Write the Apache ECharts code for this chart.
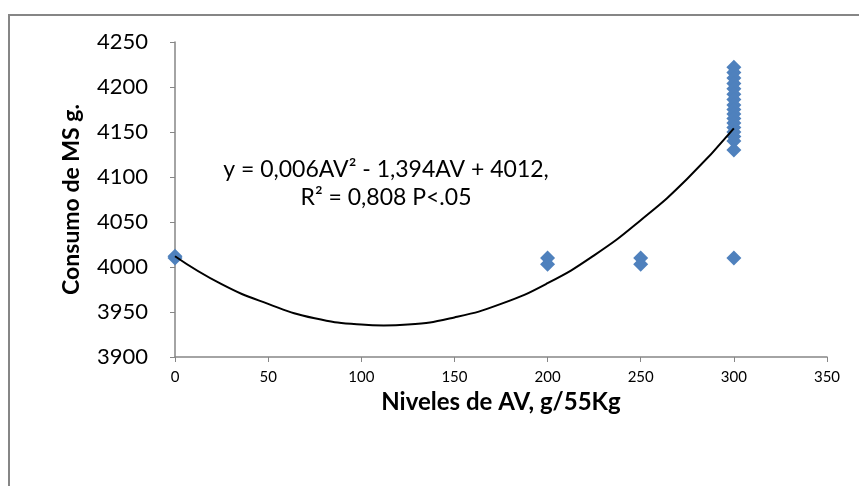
<!DOCTYPE html>
<html>
<head>
<meta charset="utf-8">
<script src="https://cdn.jsdelivr.net/npm/echarts@6/dist/echarts.min.js"></script>
<style>
  html, body { margin: 0; padding: 0; background: #fff; }
  #chart { width: 859px; height: 486px; }
</style>
</head>
<body>
<div id="chart"></div>
<script>
// observed points (AV level, consumption)
var levels0 = [0, 0];
var values0 = [4010, 4012];
var levels200 = [200, 200];
var values200 = [4010, 4003];
var levels250 = [250, 250];
var values250 = [4010, 4003];
var values300 = [4222, 4216, 4210, 4204, 4198, 4192, 4186, 4180, 4175, 4170,
                 4165, 4160, 4155, 4150, 4145, 4140, 4130, 4010];

// trend line
var trendX = [0, 25, 50, 75, 100, 112, 125, 150, 175, 200, 225, 250, 275, 300];
var trendY = [4012, 3981, 3959, 3943, 3936, 3935, 3936, 3944, 3959, 3982, 4013, 4052, 4098, 4154];

var xTicks = { min: 0, max: 350, interval: 50 };
var yTicks = { min: 3900, max: 4250, interval: 50 };

var points = [];
levels0.forEach(function (x, i) { points.push([x, values0[i]]); });
levels200.forEach(function (x, i) { points.push([x, values200[i]]); });
levels250.forEach(function (x, i) { points.push([x, values250[i]]); });
values300.forEach(function (v) { points.push([300, v]); });

var trend = trendX.map(function (x, i) { return [x, trendY[i]]; });

var font = 'Lato, "Open Sans", sans-serif';
var axisGray = '#868686';

var chart = echarts.init(document.getElementById('chart'));
chart.setOption({
  animation: false,
  textStyle: { fontFamily: font },
  grid: { left: 175, top: 42, right: 32, bottom: 129 },
  graphic: [
    {
      type: 'rect',
      shape: { x: 9, y: 15, width: 900, height: 520 },
      style: { fill: 'none', stroke: axisGray, lineWidth: 2 },
      silent: true
    },
    {
      type: 'text',
      x: 386, y: 170,
      style: {
        text: 'y = 0,006AV² - 1,394AV + 4012,',
        font: '23px ' + font, fill: '#000',
        align: 'center', verticalAlign: 'middle'
      }
    },
    {
      type: 'text',
      x: 386, y: 198,
      style: {
        text: 'R² = 0,808 P<.05',
        font: '23px ' + font, fill: '#000',
        align: 'center', verticalAlign: 'middle'
      }
    }
  ],
  xAxis: {
    type: 'value',
    min: xTicks.min, max: xTicks.max, interval: xTicks.interval,
    name: 'Niveles de AV, g/55Kg',
    nameLocation: 'middle',
    nameGap: 23,
    nameTextStyle: { fontSize: 24, fontWeight: 'bold', color: '#000', fontFamily: font },
    splitLine: { show: false },
    axisLine: { lineStyle: { color: axisGray, width: 1.5 } },
    axisTick: { show: true, length: 5, lineStyle: { color: axisGray } },
    axisLabel: { color: '#000', fontSize: 15, margin: 13, fontFamily: font }
  },
  yAxis: {
    type: 'value',
    min: yTicks.min, max: yTicks.max, interval: yTicks.interval,
    name: 'Consumo de MS g.',
    nameLocation: 'middle',
    nameGap: 92,
    nameRotate: 90,
    nameTextStyle: { fontSize: 23, fontWeight: 'bold', color: '#000', fontFamily: font },
    splitLine: { show: false },
    axisLine: { show: true, lineStyle: { color: axisGray, width: 1.5 } },
    axisTick: { show: true, length: 5, lineStyle: { color: axisGray } },
    axisLabel: {
      color: '#000', fontSize: 22, margin: 27, fontFamily: font,
      formatter: function (v) { return String(v); }
    }
  },
  series: [
    {
      type: 'scatter',
      data: points,
      symbol: 'diamond',
      symbolSize: 15,
      itemStyle: { color: '#4F81BD', opacity: 1 },
      z: 2
    },
    {
      type: 'line',
      data: trend,
      smooth: true,
      showSymbol: false,
      lineStyle: { color: '#000', width: 2 },
      z: 3
    }
  ]
});
</script>
</body>
</html>
